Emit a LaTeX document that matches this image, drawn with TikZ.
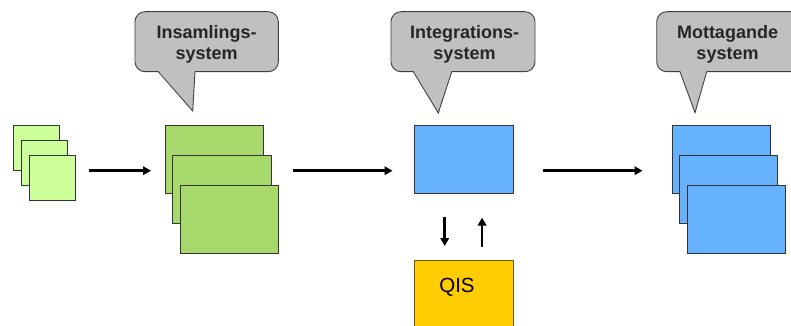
\documentclass[tikz,border=0pt]{standalone}
\usepackage{fontspec}
\setmainfont{Liberation Sans}
\usetikzlibrary{arrows.meta,calc}
\definecolor{lgreen}{RGB}{204,255,153}
\definecolor{mgreen}{RGB}{166,216,108}
\definecolor{mblue}{RGB}{102,178,255}
\definecolor{cgray}{RGB}{192,192,192}
\definecolor{qyel}{RGB}{255,204,0}
\definecolor{qedge}{RGB}{110,90,20}
\tikzset{
  box/.style={draw=black!80, line width=0.9pt, inner sep=0pt, anchor=north west},
  small/.style={box, fill=lgreen, minimum width=46pt, minimum height=45pt},
  big/.style={box, minimum width=98.3pt, minimum height=67.7pt},
  gbox/.style={big, fill=mgreen},
  bbox/.style={big, fill=mblue},
  qbox/.style={box, draw=qedge, fill=qyel, minimum width=98.3pt, minimum height=80pt},
  arr/.style={line width=2.6pt, -{Triangle[length=8pt,width=8.5pt]}},
  callfill/.style={fill=cgray},
  calltext/.style={font=\fontsize{18}{21}\selectfont\bfseries, align=center, text=black!85},
}
\begin{document}
\begin{tikzpicture}[x=1pt,y=-1pt]
\useasboundingbox (0,0) rectangle (791,326);
\clip (0,0) rectangle (791,326);
% callouts
\newcommand{\callout}[7]{%
  \draw[callfill, draw=black!75, line width=0.9pt, rounded corners=10pt] (#1,11.7) rectangle (#2,71.7);
  \fill[cgray] (#3,70.5) -- (#5,#6) -- (#4,70.5) -- cycle;
  \draw[black!75, line width=0.9pt, line join=miter] (#3,71.7) -- (#5,#6) -- (#4,71.7);
}
\callout{135}{278.3}{158.3}{195}{192.7}{111}{}
\callout{391}{535}{413.3}{451.7}{438.3}{113}{}
\callout{656.7}{812}{680}{706.7}{695}{112.7}{}
\node[calltext] (c1) at (206.7,44) {Insamlings-\\system};
\node[calltext] (c2) at (464.5,44) {Integrations-\\system};
\node[calltext] (c3) at (727.5,44) {Mottagande\\system};
% small squares
\node[small] (s1) at (13.3,125) {};
\node[small] (s2) at (21,140) {};
\node[small] (s3) at (28.5,155) {};
% green
\node[gbox] (g1) at (165,125) {};
\node[gbox] (g2) at (172.3,155) {};
\node[gbox] (g3) at (180,185) {};
% integration
\node[bbox] (ib) at (414.3,125) {};
\node[qbox] (qis) at (414.3,260) {};
\node[font=\fontsize{20.5}{24}\selectfont] (qt) at (457,287.5) {QIS};
% receiving
\node[bbox] (m1) at (671.7,125) {};
\node[bbox] (m2) at (679,155) {};
\node[bbox] (m3) at (686.7,185) {};
% arrows
\coordinate (a1s) at (89,170.7);
\coordinate (a1e) at (151,170.7);
\coordinate (a2s) at (293.3,170.7);
\coordinate (a2e) at (392.5,170.7);
\coordinate (a3s) at (543.3,170.7);
\coordinate (a3e) at (642.5,170.7);
\draw[arr] (a1s) -- (a1e);
\draw[arr] (a2s) -- (a2e);
\draw[arr] (a3s) -- (a3e);
\draw[arr] ([xshift=-19.2pt,yshift=-23.3pt]ib.south) -- ([xshift=-19.2pt,yshift=14pt]qis.north);
\draw[arr] ([xshift=18.2pt,yshift=13pt]qis.north) -- ([xshift=18.2pt,yshift=-24pt]ib.south);
\end{tikzpicture}
\end{document}
